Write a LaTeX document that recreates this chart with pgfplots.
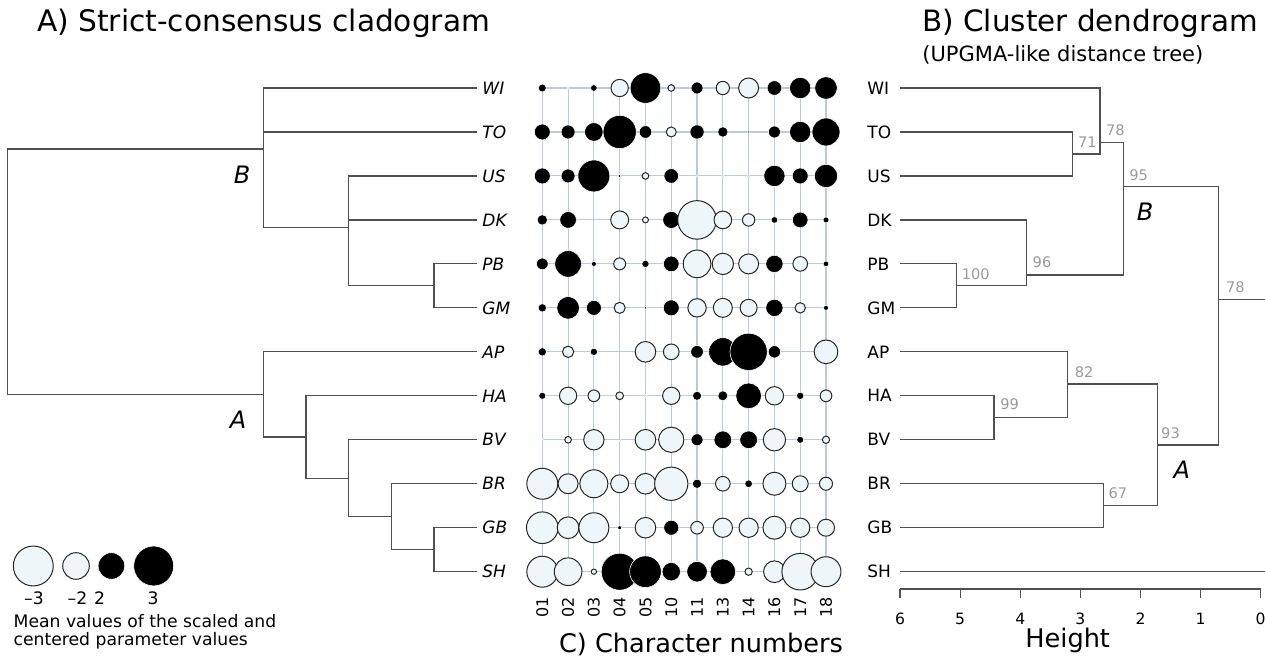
\documentclass[border=0pt]{standalone}
\usepackage{pgfplots}
\pgfplotsset{compat=1.18}
\usepackage{fontspec}
\setmainfont{DejaVu Sans}

\definecolor{tree}{HTML}{505050}
\definecolor{bwhite}{HTML}{EEF6F9}
\definecolor{gridblue}{HTML}{BCC9E4}
\definecolor{boot}{HTML}{9A9A9A}

\newcommand\fs[1]{\fontsize{#1}{#1}\selectfont}

\pgfplotsset{
  treeline/.style={tree, line width=0.6pt, mark=none},
  bubble/.style={
    scatter, only marks, mark=*,
    visualization depends on={value \thisrow{v}\as\bval},
    point meta=\thisrow{v},
    scatter/@pre marker code/.code={%
      \pgfmathsetmacro\rad{abs(\bval)*3.325}%
      \ifdim\bval pt>0pt
        \def\fc{black}\def\dc{white}\def\lw{0.3pt}%
      \else
        \def\fc{bwhite}\def\dc{black!85}\def\lw{0.5pt}%
      \fi
      \ifdim\rad pt<0.01pt \def\fc{none}\def\dc{none}\fi
      \scope[mark size=\rad pt, fill=\fc, draw=\dc, line width=\lw]%
    },
    scatter/@post marker code/.code={\endscope},
  },
}
\tikzset{
  leaf/.style={font=\fs{8.5}, inner sep=0pt, anchor=west},
  bootlab/.style={font=\fs{7.3}, text=boot, inner sep=0pt},
}

\begin{document}
\begin{tikzpicture}
\useasboundingbox (0,0) rectangle (632.5pt,-328.5pt);

% ---------- A) cladogram ----------
\begin{axis}[at={(3.65pt,-285.85pt)}, anchor=south west, scale only axis,
  width=234.7pt, height=241.85pt, xmin=0, xmax=11, ymin=-12, ymax=-1,
  hide axis, clip=false]
\addplot[treeline] coordinates {(6,-2.389) (0,-2.389) (0,-7.969) (6,-7.969)};
% clade B
\addplot[treeline] coordinates {(11,-1) (6,-1) (6,-4.167) (8,-4.167)};
\addplot[treeline] coordinates {(6,-2) (11,-2)};
\addplot[treeline] coordinates {(11,-3) (8,-3) (8,-5.5) (10,-5.5)};
\addplot[treeline] coordinates {(8,-4) (11,-4)};
\addplot[treeline] coordinates {(11,-5) (10,-5) (10,-6) (11,-6)};
% clade A
\addplot[treeline] coordinates {(11,-7) (6,-7) (6,-8.9375) (7,-8.9375)};
\addplot[treeline] coordinates {(11,-8) (7,-8) (7,-9.875) (8,-9.875)};
\addplot[treeline] coordinates {(11,-9) (8,-9) (8,-10.75) (9,-10.75)};
\addplot[treeline] coordinates {(11,-10) (9,-10) (9,-11.5) (10,-11.5)};
\addplot[treeline] coordinates {(11,-11) (10,-11) (10,-12) (11,-12)};
% size legend
\addplot[bubble] table {
x     y      v
0.609 -11.87 -3
1.61  -11.87 -2
2.44  -11.87  2
3.43  -11.87  3
};
\node[leaf] at (axis cs:11.125,-1) {\itshape WI};
\node[leaf] at (axis cs:11.125,-2) {\itshape TO};
\node[leaf] at (axis cs:11.125,-3) {\itshape US};
\node[leaf] at (axis cs:11.125,-4) {\itshape DK};
\node[leaf] at (axis cs:11.125,-5) {\itshape PB};
\node[leaf] at (axis cs:11.125,-6) {\itshape GM};
\node[leaf] at (axis cs:11.125,-7) {\itshape AP};
\node[leaf] at (axis cs:11.125,-8) {\itshape HA};
\node[leaf] at (axis cs:11.125,-9) {\itshape BV};
\node[leaf] at (axis cs:11.125,-10) {\itshape BR};
\node[leaf] at (axis cs:11.125,-11) {\itshape GB};
\node[leaf] at (axis cs:11.125,-12) {\itshape SH};
\end{axis}

% ---------- C) character matrix ----------
% x = character index (01 02 03 04 05 10 11 13 14 16 17 18), y = -taxon row, v = mean scaled value
\begin{axis}[at={(271.15pt,-285.85pt)}, anchor=south west, scale only axis,
  width=141.85pt, height=241.85pt, xmin=1, xmax=12, ymin=-12, ymax=-1,
  clip=false, axis line style={draw=none}, major tick length=0pt,
  grid=major, major grid style={gridblue, line width=0.55pt},
  xtick={1,...,12}, xticklabels={01,02,03,04,05,10,11,13,14,16,17,18},
  ytick={-12,...,-1}, yticklabels={},
  xticklabel style={rotate=90, anchor=east, inner sep=0pt, font=\fs{8}},
  xticklabel shift=12.5pt]
\addplot[bubble] table[row sep=\\] {
x y v\\
1 -1 0.60\\ 2 -1 0.15\\ 3 -1 0.50\\ 4 -1 -1.30\\ 5 -1 2.30\\ 6 -1 -0.50\\ 7 -1 0.90\\ 8 -1 -1.00\\ 9 -1 -1.50\\ 10 -1 1.10\\ 11 -1 1.60\\ 12 -1 1.70\\
1 -2 1.20\\ 2 -2 1.05\\ 3 -2 1.40\\ 4 -2 2.50\\ 5 -2 0.95\\ 6 -2 -0.75\\ 7 -2 1.07\\ 8 -2 0.78\\ 9 -2 0.20\\ 10 -2 0.90\\ 11 -2 1.60\\ 12 -2 2.10\\
1 -3 1.20\\ 2 -3 1.05\\ 3 -3 2.40\\ 4 -3 0.25\\ 5 -3 -0.50\\ 6 -3 1.10\\ 7 -3 0.15\\ 8 -3 0.15\\ 9 -3 0.15\\ 10 -3 1.60\\ 11 -3 1.20\\ 12 -3 1.75\\
1 -4 0.78\\ 2 -4 1.25\\ 3 -4 0.00\\ 4 -4 -1.35\\ 5 -4 -0.45\\ 6 -4 1.28\\ 7 -4 -2.90\\ 8 -4 -1.33\\ 9 -4 -0.93\\ 10 -4 0.50\\ 11 -4 1.18\\ 12 -4 0.45\\
1 -5 0.88\\ 2 -5 2.00\\ 3 -5 0.38\\ 4 -5 -0.90\\ 5 -5 0.55\\ 6 -5 1.18\\ 7 -5 -2.08\\ 8 -5 -1.60\\ 9 -5 -1.50\\ 10 -5 1.30\\ 11 -5 -1.10\\ 12 -5 0.43\\
1 -6 0.63\\ 2 -6 1.70\\ 3 -6 1.13\\ 4 -6 -0.83\\ 5 -6 0.22\\ 6 -6 1.20\\ 7 -6 -1.38\\ 8 -6 -1.43\\ 9 -6 -1.28\\ 10 -6 1.30\\ 11 -6 -0.78\\ 12 -6 0.38\\
1 -7 0.63\\ 2 -7 -0.85\\ 3 -7 0.55\\ 4 -7 0.00\\ 5 -7 -1.55\\ 6 -7 -1.18\\ 7 -7 0.95\\ 8 -7 2.13\\ 9 -7 2.80\\ 10 -7 0.93\\ 11 -7 0.00\\ 12 -7 -1.78\\
1 -8 0.53\\ 2 -8 -1.30\\ 3 -8 -0.88\\ 4 -8 -0.58\\ 5 -8 0.15\\ 6 -8 -1.30\\ 7 -8 0.68\\ 8 -8 0.75\\ 9 -8 1.93\\ 10 -8 -1.38\\ 11 -8 0.55\\ 12 -8 -0.88\\
1 -9 0.10\\ 2 -9 -0.50\\ 3 -9 -1.53\\ 4 -9 0.15\\ 5 -9 -1.55\\ 6 -9 -1.90\\ 7 -9 0.90\\ 8 -9 1.33\\ 9 -9 1.33\\ 10 -9 -1.68\\ 11 -9 0.53\\ 12 -9 -0.55\\
1 -10 -2.33\\ 2 -10 -1.50\\ 3 -10 -2.10\\ 4 -10 -1.35\\ 5 -10 -1.55\\ 6 -10 -2.50\\ 7 -10 0.70\\ 8 -10 -1.10\\ 9 -10 0.58\\ 10 -10 -1.73\\ 11 -10 -1.20\\ 12 -10 -0.98\\
1 -11 -2.38\\ 2 -11 -1.63\\ 3 -11 -2.25\\ 4 -11 0.30\\ 5 -11 -1.55\\ 6 -11 1.13\\ 7 -11 -0.95\\ 8 -11 -1.45\\ 9 -11 -1.45\\ 10 -11 -1.73\\ 11 -11 -1.45\\ 12 -11 -1.28\\
1 -12 -2.33\\ 2 -12 -2.08\\ 3 -12 -0.40\\ 4 -12 2.78\\ 5 -12 2.38\\ 6 -12 1.38\\ 7 -12 1.55\\ 8 -12 1.93\\ 9 -12 -0.55\\ 10 -12 -1.63\\ 11 -12 -2.75\\ 12 -12 -2.25\\
};
\end{axis}

% ---------- B) dendrogram ----------
\begin{axis}[at={(450pt,-294.5pt)}, anchor=south west, scale only axis,
  width=180.35pt, height=250.5pt, xmin=0, xmax=6, x dir=reverse,
  ymin=-12.394, ymax=-1, clip=false,
  axis x line*=bottom, axis y line=none,
  xtick={0,...,6}, tick align=outside, major tick length=4.5pt,
  every tick/.style={tree, line width=0.6pt},
  axis line style={tree, line width=0.6pt},
  /pgf/number format/assume math mode=true,
  xticklabel style={font=\fs{7.8}, inner sep=0pt, anchor=north},
  xticklabel shift=7.5pt]
\addplot[treeline] coordinates {(6,-1) (2.673,-1) (2.673,-2.5) (3.127,-2.5)};
\addplot[treeline] coordinates {(6,-2) (3.127,-2) (3.127,-3) (6,-3)};
\addplot[treeline] coordinates {(2.673,-2.244) (2.285,-2.244) (2.285,-5.253) (3.892,-5.253)};
\addplot[treeline] coordinates {(2.285,-3.245) (0.705,-3.245) (0.705,-9.119) (1.720,-9.119)};
\addplot[treeline] coordinates {(0.705,-5.806) (-0.072,-5.806)};
\addplot[treeline] coordinates {(6,-4) (3.892,-4) (3.892,-5.5) (5.057,-5.5)};
\addplot[treeline] coordinates {(6,-5) (5.057,-5) (5.057,-6) (6,-6)};
\addplot[treeline] coordinates {(6,-7) (3.217,-7) (3.217,-8.5) (4.436,-8.5)};
\addplot[treeline] coordinates {(6,-8) (4.436,-8) (4.436,-9) (6,-9)};
\addplot[treeline] coordinates {(3.217,-7.732) (1.720,-7.732) (1.720,-10.5) (2.618,-10.5)};
\addplot[treeline] coordinates {(6,-10) (2.618,-10) (2.618,-11) (6,-11)};
\addplot[treeline] coordinates {(6,-12) (-0.072,-12)};
\node[leaf] at (axis cs:6.549,-1) {WI};
\node[leaf] at (axis cs:6.549,-2) {TO};
\node[leaf] at (axis cs:6.549,-3) {US};
\node[leaf] at (axis cs:6.549,-4) {DK};
\node[leaf] at (axis cs:6.549,-5) {PB};
\node[leaf] at (axis cs:6.549,-6) {GM};
\node[leaf] at (axis cs:6.549,-7) {AP};
\node[leaf] at (axis cs:6.549,-8) {HA};
\node[leaf] at (axis cs:6.549,-9) {BV};
\node[leaf] at (axis cs:6.549,-10) {BR};
\node[leaf] at (axis cs:6.549,-11) {GB};
\node[leaf] at (axis cs:6.549,-12) {SH};
\end{axis}

% bootstrap support values
\node[bootlab] at (543.65pt,-71.25pt) {71};
\node[bootlab] at (557.65pt,-65pt) {78};
\node[bootlab] at (569.35pt,-87.5pt) {95};
\node[bootlab] at (487.85pt,-137pt) {100};
\node[bootlab] at (521pt,-131pt) {96};
\node[bootlab] at (617.65pt,-143.5pt) {78};
\node[bootlab] at (542.1pt,-185.85pt) {82};
\node[bootlab] at (504.85pt,-201.9pt) {99};
\node[bootlab] at (585.25pt,-216.6pt) {93};
\node[bootlab] at (558.9pt,-246.4pt) {67};

% clade letters
\node[font=\fs{12}\itshape, inner sep=0pt] at (121pt,-87.5pt) {B};
\node[font=\fs{12}\itshape, inner sep=0pt] at (119pt,-210pt) {A};
\node[font=\fs{12}\itshape, inner sep=0pt] at (572.5pt,-105.65pt) {B};
\node[font=\fs{12}\itshape, inner sep=0pt] at (590.85pt,-235pt) {A};

% titles
\node[font=\fs{14.8}, inner sep=0pt, anchor=base west] at (18.5pt,-16pt) {A) Strict-consensus cladogram};
\node[font=\fs{14.7}, inner sep=0pt, anchor=base west] at (461pt,-16pt) {B) Cluster dendrogram};
\node[font=\fs{10.5}, inner sep=0pt, anchor=base west] at (461pt,-31pt) {(UPGMA-like distance tree)};
\node[font=\fs{12.8}, inner sep=0pt, anchor=base] at (350.5pt,-326.5pt) {C) Character numbers};
\node[font=\fs{12.8}, inner sep=0pt, anchor=base] at (533.85pt,-324pt) {Height};

% legend text
\node[font=\fs{8.6}, inner sep=0pt, anchor=base] at (17pt,-302.5pt) {–3};
\node[font=\fs{8.6}, inner sep=0pt, anchor=base] at (38.75pt,-302.5pt) {–2};
\node[font=\fs{8.6}, inner sep=0pt, anchor=base] at (49.75pt,-302.5pt) {2};
\node[font=\fs{8.6}, inner sep=0pt, anchor=base] at (76.5pt,-302.5pt) {3};
\node[font=\fs{8.6}, inner sep=0pt, anchor=base west] at (6.65pt,-313.65pt) {Mean values of the scaled and};
\node[font=\fs{8.6}, inner sep=0pt, anchor=base west] at (6.65pt,-323pt) {centered parameter values};
\end{tikzpicture}
\end{document}
